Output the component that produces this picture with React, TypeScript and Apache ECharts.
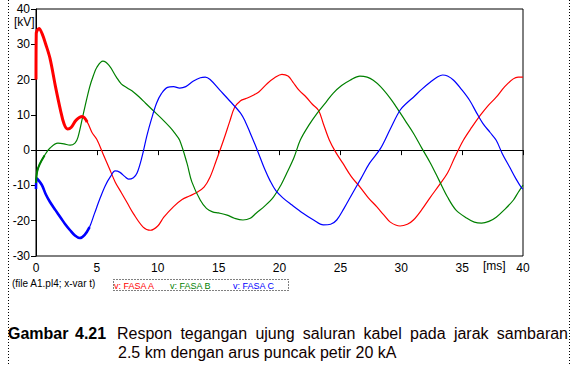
import React, { useEffect, useRef } from "react";
import * as echarts from "echarts";

// time [ms] and voltage [kV] readings per phase
const timeA = [0, 0.02, 0.25, 0.5, 0.8, 1.15, 1.6, 2.0, 2.3, 2.6, 2.9, 3.3, 3.8, 4.2, 4.6, 5.0, 5.5, 6.0, 6.5, 7.0, 7.5, 8.0, 8.8, 9.4, 10.0, 10.5, 11.3, 12.0, 12.6, 13.2, 13.8, 14.3, 14.8, 15.4, 15.9, 16.3, 16.8, 17.3, 17.8, 18.3, 19.0, 19.6, 20.2, 20.7, 21.1, 21.6, 22.2, 22.7, 23.2, 23.6, 24.1, 24.6, 25.2, 25.9, 26.6, 27.3, 28.0, 28.6, 29.1, 29.9, 30.5, 31.0, 31.7, 32.4, 33.1, 33.8, 34.4, 35.1, 35.8, 36.5, 37.1, 37.8, 38.5, 39.2, 39.6, 40];
const faseA = [20, 33, 34.5, 33, 30, 26, 18, 11.5, 7.5, 6, 6.5, 8.5, 9.5, 8, 5, 3, -1, -5, -9, -12, -15, -18, -21.8, -22.7, -21.5, -19, -16, -14, -13, -12, -10.5, -7.6, -3, 2.8, 8, 12, 14, 14.7, 15.5, 16.5, 18.9, 20.5, 21.5, 21, 19.3, 17, 15, 13, 11.3, 7.5, 2.8, -0.5, -3.7, -7.5, -10.4, -13.5, -16.1, -18.5, -20.4, -21.5, -21, -19.8, -16.8, -13.3, -10, -6.5, -2, 2.8, 6.5, 9.9, 12.5, 15, 18, 20.2, 20.7, 20.7];

const timeB = [0, 0.1, 0.3, 0.7, 1.15, 1.8, 2.3, 2.8, 3.2, 3.45, 3.9, 4.4, 4.7, 5.0, 5.5, 6.0, 6.6, 7.0, 7.5, 8.0, 8.5, 9.0, 9.6, 10.3, 11.0, 11.4, 11.8, 12.4, 12.8, 13.5, 14.0, 14.5, 15.0, 15.7, 16.3, 17.0, 17.6, 18.1, 18.8, 19.5, 20.1, 20.6, 21.2, 21.7, 22.4, 23.1, 23.8, 24.4, 25.1, 25.8, 26.6, 27.2, 27.7, 28.3, 29.1, 29.6, 30.3, 31.0, 31.7, 32.4, 33.1, 33.8, 34.5, 35.4, 36.0, 36.6, 37.2, 37.8, 38.5, 39.2, 39.6, 40];
const faseB = [-9.3, -6, -4, -1.5, 0.6, 2, 1.8, 1.4, 2, 3.7, 10.5, 17.8, 21, 23.5, 25.2, 24, 20.7, 18.8, 17.6, 16.5, 15, 13.3, 11.3, 9, 6.5, 4.8, 2.8, -3.7, -9, -14.2, -16.5, -17.5, -17.8, -18.4, -19.3, -19.8, -19.3, -17.8, -15.8, -13.3, -10, -6.5, -2, 2.8, 7, 10.5, 13.5, 16.1, 18.3, 19.8, 21, 20.7, 19.8, 18, 14.7, 12.2, 8.5, 4.8, 0.5, -3.7, -8.5, -13.3, -17, -19.3, -20.4, -20.7, -20.2, -19, -16.8, -14.2, -12, -9.9];

const timeC = [0, 0.05, 0.2, 0.5, 0.8, 1.15, 1.6, 2.0, 2.4, 2.8, 3.2, 3.6, 4.0, 4.4, 4.8, 5.3, 5.7, 6.1, 6.5, 6.9, 7.3, 7.6, 8.0, 8.3, 8.7, 9.1, 9.5, 9.9, 10.3, 10.8, 11.3, 11.8, 12.3, 12.9, 13.5, 13.9, 14.3, 15.1, 15.9, 16.8, 17.2, 17.6, 18.0, 18.4, 18.8, 19.2, 19.7, 20.3, 21.0, 21.9, 22.8, 23.6, 24.2, 24.7, 25.3, 26.0, 26.7, 27.4, 28.3, 29.1, 29.9, 30.5, 31.0, 31.7, 32.4, 33.0, 33.4, 33.8, 34.3, 35.0, 35.6, 36.2, 36.7, 37.3, 37.8, 38.3, 38.9, 39.4, 39.9, 40];
const faseC = [-11, -8, -8.5, -10, -12.5, -14.7, -17, -19, -21, -22.7, -24.2, -24.9, -24, -21.8, -18, -13.3, -10, -7.6, -5.9, -6.3, -7.5, -8.2, -7.8, -6.5, -2, 4, 9, 13.3, 16, 17.8, 18, 17.6, 18, 19.5, 20.5, 20.7, 20, 17, 14, 10.5, 8, 4.8, 1.5, -2, -5.5, -8.5, -11.5, -13.6, -15.5, -17.8, -19.8, -21.2, -21, -19.8, -16.5, -12.2, -8, -3.7, 0.5, 6, 11.3, 13.5, 15, 17.3, 19.3, 20.8, 21.3, 21, 19.8, 17, 14.2, 10.5, 7.6, 5, 2.8, -1, -4.8, -8, -10.8, -11];

const xTicks = { min: 0, max: 40, interval: 5 };
const yTicks = { min: -30, max: 40, interval: 10 };
const legendLabels = ["v: FASA A", "v: FASA B", "v: FASA C"];
const phaseColors = ["#ff0000", "#008000", "#0000ff"];
const captionWords = ["Respon", "tegangan", "ujung", "saluran", "kabel", "pada", "jarak", "sambaran"];
const captionLine2 = "2.5 km dengan arus puncak petir 20 kA";

const FONT = "'Liberation Sans', Arial, sans-serif";

function pairs(t: number[], v: number[], maxT = Infinity) {
  const out: number[][] = [];
  for (let i = 0; i < t.length; i++) if (t[i] <= maxT) out.push([t[i], v[i]]);
  return out;
}

export default function App() {
  const ref = useRef<HTMLDivElement>(null);
  useEffect(() => {
    if (!ref.current) return;
    const chart = echarts.init(ref.current, undefined, { renderer: "svg" });

    // justify caption line 1 between x=117 and x=568
    const fontSize = 16;
    const ctx = document.createElement("canvas").getContext("2d")!;
    ctx.font = `${fontSize}px 'Liberation Sans', Arial, sans-serif`;
    const widths = captionWords.map((w) => ctx.measureText(w).width);
    const total = widths.reduce((a, b) => a + b, 0);
    const start = 117, end = 568;
    const gap = (end - start - total) / (captionWords.length - 1);
    let cx = start;
    const wordEls: any[] = captionWords.map((w, i) => {
      const el = {
        type: "text", x: cx, y: 333,
        style: { text: w, fill: "#100000", font: `${fontSize}px ${FONT}`, textVerticalAlign: "middle" },
      };
      cx += widths[i] + gap;
      return el;
    });

    const series: any[] = [];
    const sets = [[timeA, faseA], [timeB, faseB], [timeC, faseC]];
    sets.forEach(([t, v], i) => {
      series.push({
        name: legendLabels[i], type: "line", data: pairs(t, v), smooth: 0.35, symbol: "none",
        lineStyle: { color: phaseColors[i], width: 1.2 }, z: 3,
      });
    });
    // thicker (oscillating) early parts
    series.push({ name: legendLabels[0] + " early", type: "line", data: pairs(timeA, faseA, 4.2), smooth: 0.35, symbol: "none", lineStyle: { color: phaseColors[0], width: 3 }, z: 4 });
    series.push({ name: legendLabels[2] + " early", type: "line", data: pairs(timeC, faseC, 4.4), smooth: 0.35, symbol: "none", lineStyle: { color: phaseColors[2], width: 2.6 }, z: 4 });
    series.push({ name: legendLabels[1] + " early", type: "line", data: pairs(timeB, faseB, 0.7), smooth: 0.35, symbol: "none", lineStyle: { color: phaseColors[1], width: 2 }, z: 4 });

    const dotted = { stroke: "#000", lineWidth: 1, lineDash: [1, 2] };
    chart.setOption({
      animation: false,
      backgroundColor: "#fff",
      grid: { left: 36, top: 9, width: 487, height: 247, show: true, borderColor: "#000", borderWidth: 1 },
      xAxis: {
        type: "value", ...xTicks,
        axisLine: { show: true, lineStyle: { color: "#000" } },
        axisTick: { show: true, inside: false, length: 5, lineStyle: { color: "#000" } },
        axisLabel: { color: "#000", fontSize: 12, fontFamily: FONT, margin: 6 },
        splitLine: { show: false },
      },
      yAxis: {
        type: "value", ...yTicks,
        axisLine: { show: true, lineStyle: { color: "#000" } },
        axisTick: { show: true, inside: false, length: 5, lineStyle: { color: "#000" } },
        axisLabel: { color: "#000", fontSize: 12, fontFamily: FONT, margin: 6 },
        splitLine: { show: false },
      },
      series,
      graphic: [
        { type: "line", shape: { x1: 8.5, y1: 0, x2: 8.5, y2: 365 }, style: dotted, silent: true },
        { type: "line", shape: { x1: 569.5, y1: 0, x2: 569.5, y2: 365 }, style: dotted, silent: true },
        { type: "text", x: 14, y: 22, style: { text: "[kV]", fill: "#000", font: `12px ${FONT}`, textVerticalAlign: "middle" } },
        { type: "text", x: 483, y: 266, style: { text: "[ms]", fill: "#000", font: `12px ${FONT}`, textVerticalAlign: "middle" } },
        { type: "text", x: 12, y: 283, style: { text: "(file A1.pl4; x-var t)", fill: "#000", font: `10px ${FONT}`, textVerticalAlign: "middle" } },
        { type: "rect", shape: { x: 113.5, y: 279.5, width: 175, height: 11 }, style: { fill: "none", ...dotted } },
        { type: "text", x: 114, y: 285.5, style: { text: legendLabels[0], fill: phaseColors[0], font: `9px ${FONT}`, textVerticalAlign: "middle" } },
        { type: "text", x: 170, y: 285.5, style: { text: legendLabels[1], fill: phaseColors[1], font: `9px ${FONT}`, textVerticalAlign: "middle" } },
        { type: "text", x: 233, y: 285.5, style: { text: legendLabels[2], fill: phaseColors[2], font: `9px ${FONT}`, textVerticalAlign: "middle" } },
        { type: "text", x: 8, y: 333, style: { text: "Gambar", fill: "#000", font: `bold ${fontSize}px ${FONT}`, textVerticalAlign: "middle" } },
        { type: "text", x: 75, y: 333, style: { text: "4.21", fill: "#000", font: `bold ${fontSize}px ${FONT}`, textVerticalAlign: "middle" } },
        ...wordEls,
        { type: "text", x: 118, y: 352, style: { text: captionLine2, fill: "#100000", font: `${fontSize}px ${FONT}`, textVerticalAlign: "middle" } },
      ],
    });
    return () => chart.dispose();
  }, []);
  return <div ref={ref} style={{ width: 575, height: 365, position: "absolute", left: 0, top: 0 }} />;
}
